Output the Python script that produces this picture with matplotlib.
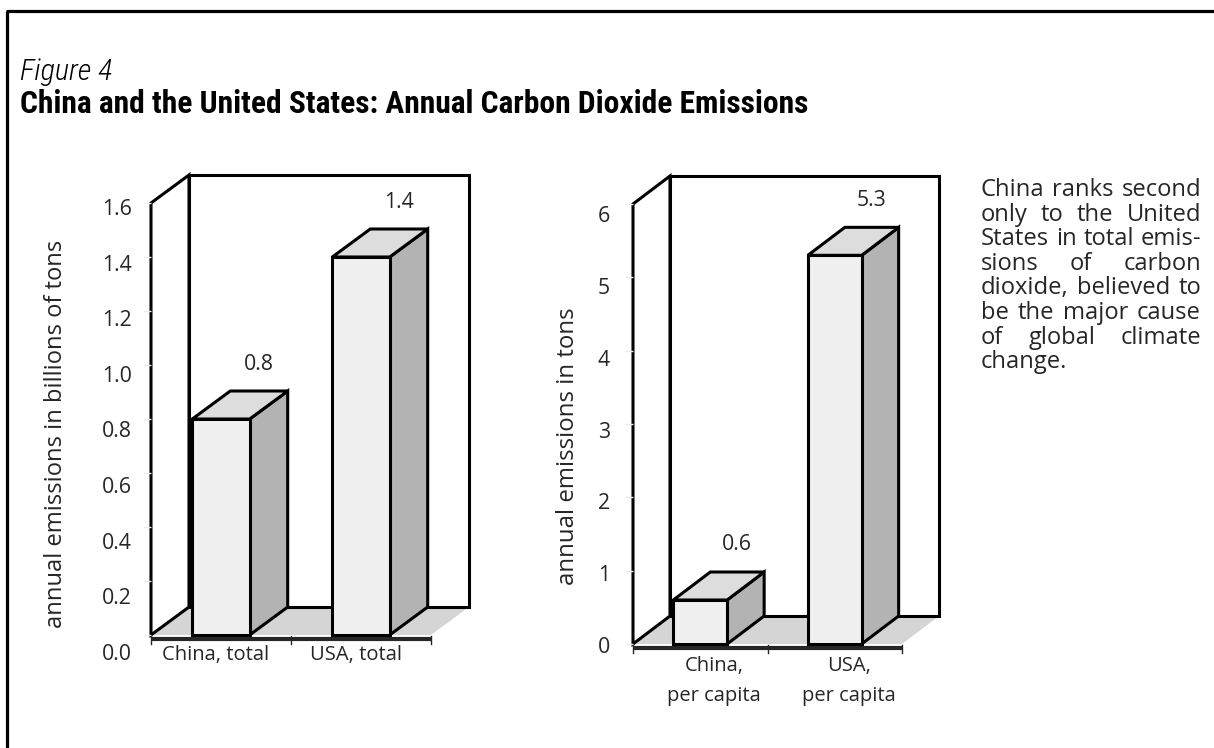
import matplotlib
matplotlib.use('Agg')
import matplotlib.pyplot as plt
from matplotlib.patches import Polygon, Rectangle
from matplotlib.lines import Line2D
import matplotlib.transforms as mtransforms
from matplotlib import font_manager as fm

# ---------------- data ----------------
total_categories = ['China, total', 'USA, total']
total_values = [0.8, 1.4]
total_value_labels = ['0.8', '1.4']
total_ticks = [0.0, 0.2, 0.4, 0.6, 0.8, 1.0, 1.2, 1.4, 1.6]
total_tick_labels = ['0.0', '0.2', '0.4', '0.6', '0.8', '1.0', '1.2', '1.4', '1.6']

percap_categories = ['China,\nper capita', 'USA,\nper capita']
percap_values = [0.6, 5.3]
percap_value_labels = ['0.6', '5.3']
percap_ticks = [0, 1, 2, 3, 4, 5, 6]
percap_tick_labels = ['0', '1', '2', '3', '4', '5', '6']

total_ylabel = 'annual emissions in billions of tons'
percap_ylabel = 'annual emissions in tons'
fig_label = 'Figure 4'
title = 'China and the United States: Annual Carbon Dioxide Emissions'
note_lines = ['China ranks second', 'only to the United', 'States in total emis-',
              'sions of carbon', 'dioxide, believed to', 'be the major cause',
              'of global climate', 'change.']

# ---------------- fonts ----------------
names = {f.name for f in fm.fontManager.ttflist}
def pick(*cands):
    for c in cands:
        if c in names:
            return c
    return 'DejaVu Sans'
NARROW = pick('Liberation Sans Narrow', 'Roboto Condensed', 'DejaVu Sans')
BODY = pick('Open Sans', 'Noto Sans', 'Lato', 'DejaVu Sans')

W, H, DPI = 1214, 748, 100
fig = plt.figure(figsize=(W / DPI, H / DPI), dpi=DPI)
fig.patch.set_facecolor('white')
renderer = fig.canvas.get_renderer()

def px_rect(x0, ytop, x1, ybot):
    return [x0 / W, (H - ybot) / H, (x1 - x0) / W, (ybot - ytop) / H]

# background axes in pixel coordinates (top-left origin)
bg = fig.add_axes([0, 0, 1, 1])
bg.set_xlim(0, W)
bg.set_ylim(H, 0)
bg.axis('off')
bg.add_line(Line2D([7, 7], [11, H + 5], color='black', lw=2.3, solid_capstyle='butt'))
bg.add_line(Line2D([5.9, W + 5], [11, 11], color='black', lw=2.3, solid_capstyle='butt'))

def fit(t, target):
    bb = t.get_window_extent(renderer)
    size = max(bb.width, bb.height)
    t.set_fontsize(t.get_fontsize() * target / size)

LW = 2.2
FRONT, SIDE, TOP, FLOOR = '#f0f0f0', '#b3b3b3', '#dddddd', '#d5d5d5'
TXT = '#262626'

def chart(rect_px, values, vlabels, cats, ymax, ticks, depth_px, bar_w,
          lab_rect, ticklabels, tick_fs, cat_fs, xlab_dx, xlab_dy):
    ax = fig.add_axes(px_rect(*rect_px))
    n = len(values)
    ax.set_xlim(0, n)
    ax.set_ylim(0, ymax)
    ax.patch.set_visible(False)
    for s in ax.spines.values():
        s.set_visible(False)
    ax.set_xticks([])
    ax.set_yticks(ticks)
    ax.tick_params(axis='y', length=6, width=1, color='#ececec', labelleft=False)
    o = ax.transData.transform((0, 0))
    ux = ax.transData.transform((1, 0))[0] - o[0]
    uy = ax.transData.transform((0, 1))[1] - o[1]
    ddx, ddy = depth_px[0] / ux, depth_px[1] / uy
    kw = dict(closed=True, clip_on=False, joinstyle='miter')
    # floor
    ax.add_patch(Polygon([(0, 0), (n, 0), (n + ddx, ddy), (ddx, ddy)], fc=FLOOR, ec='none', **kw))
    # left wall
    ax.add_patch(Polygon([(0, 0), (ddx, ddy), (ddx, ymax + ddy), (0, ymax)], fc='white', ec='black', lw=LW, **kw))
    # back wall
    ax.add_patch(Rectangle((ddx, ddy), n, ymax, fc='white', ec='black', lw=LW, clip_on=False, joinstyle='miter'))
    # bars
    for i, v in enumerate(values):
        c = i + 0.5
        x0, x1 = c - bar_w / 2, c + bar_w / 2
        ax.add_patch(Polygon([(x1, 0), (x1 + ddx, ddy), (x1 + ddx, v + ddy), (x1, v)], fc=SIDE, ec='black', lw=LW, **kw))
        ax.add_patch(Polygon([(x0, v), (x1, v), (x1 + ddx, v + ddy), (x0 + ddx, v + ddy)], fc=TOP, ec='black', lw=LW, **kw))
        ax.add_patch(Polygon([(x0, 0), (x1, 0), (x1, v), (x0, v)], fc=FRONT, ec='black', lw=LW, **kw))
        ax.annotate(vlabels[i], xy=(c + ddx, v + ddy), xytext=(0, 27), textcoords='offset pixels',
                    ha='center', va='center', fontsize=tick_fs, family=BODY, color=TXT, annotation_clip=False)
        for k, line in enumerate(cats[i].split('\n')):
            ax.annotate(line, xy=(c, 0), xytext=(xlab_dx, -xlab_dy - 30 * k), textcoords='offset pixels',
                        ha='center', va='top', fontsize=cat_fs, family=BODY, color=TXT, annotation_clip=False)
    # x axis line
    down = ax.transData + mtransforms.ScaledTranslation(0, -4 / DPI, fig.dpi_scale_trans)
    ax.add_line(Line2D([0, n], [0, 0], transform=down, color='#262626', lw=3.0, solid_capstyle='butt', clip_on=False))
    for xt in range(n + 1):
        p = ax.transData.transform((xt, 0))
        bg.add_line(Line2D([p[0], p[0]], [H - p[1] + 1, H - p[1] + 9], color='#262626', lw=1.0))
    # tick label axes
    lab = fig.add_axes(px_rect(*lab_rect))
    lab.set_ylim(0, ymax)
    lab.patch.set_visible(False)
    for s in lab.spines.values():
        s.set_visible(False)
    lab.set_xticks([])
    lab.set_yticks(ticks)
    lab.set_yticklabels(ticklabels, fontsize=tick_fs, family=BODY, color=TXT)
    lab.tick_params(axis='y', length=0, pad=0)
    return ax

TICK_FS = 15.3
CAT_FS = 14.5
chart((151, 203, 431, 635), total_values, total_value_labels, total_categories, 1.6,
      total_ticks, (38, 28), 0.41, (132, 207, 133, 652), total_tick_labels, TICK_FS, CAT_FS, -5, 10)
chart((633, 204, 902, 644), percap_values, percap_value_labels, percap_categories, 6,
      percap_ticks, (37, 28), 0.40, (610, 214, 611, 645), percap_tick_labels, TICK_FS, CAT_FS, 14, 12)

# y labels
t = bg.text(56, 434, total_ylabel, rotation=90, ha='center', va='center', family=BODY, fontsize=15, color=TXT)
fit(t, 388)
t = bg.text(568, 446, percap_ylabel, rotation=90, ha='center', va='center', family=BODY, fontsize=15, color=TXT)
fit(t, 277)

# titles
t = bg.text(20, 80, fig_label, ha='left', va='baseline', family=NARROW, style='italic', weight='light',
            fontsize=22, color='black')
fit(t, 92)
t = bg.text(20, 113, title, ha='left', va='baseline', family=NARROW, weight='bold', fontsize=24, color='black')
fit(t, 790)

# justified note
X0, X1 = 981, 1201
probe = bg.text(X0, 196, note_lines[0], family=BODY, fontsize=14, va='baseline')
fit(probe, 218)
NFS = probe.get_fontsize()
probe.remove()
for k, line in enumerate(note_lines):
    yb = 196 + 24.6 * k
    words = line.split(' ')
    texts = [bg.text(X0, yb, w, family=BODY, fontsize=NFS, va='baseline', ha='left', color=TXT) for w in words]
    widths = [tt.get_window_extent(renderer).width for tt in texts]
    if k < len(note_lines) - 1 and len(words) > 1:
        gap = (X1 - X0 - sum(widths)) / (len(words) - 1)
    else:
        sp = bg.text(0, 0, 'a a', family=BODY, fontsize=NFS)
        sa = bg.text(0, 0, 'aa', family=BODY, fontsize=NFS)
        gap = sp.get_window_extent(renderer).width - sa.get_window_extent(renderer).width
        sp.remove(); sa.remove()
    x = X0
    for tt, w in zip(texts, widths):
        tt.set_x(x)
        x += w + gap

fig.savefig('out.png', dpi=DPI, facecolor='white')
